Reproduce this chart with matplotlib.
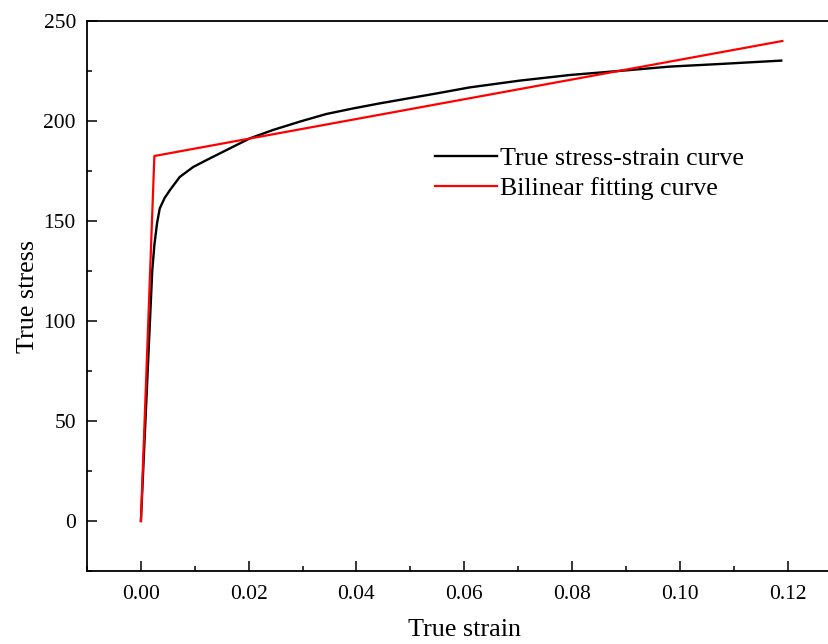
import matplotlib.pyplot as plt
from matplotlib.ticker import MultipleLocator

plt.rcParams['font.family'] = ['Liberation Serif', 'DejaVu Serif']

# True stress-strain curve
strain_true = [0.0, 0.0021, 0.0025, 0.0030, 0.0035, 0.0044, 0.0054, 0.0072, 0.0097,
               0.0122, 0.0159, 0.0202, 0.0245, 0.0295, 0.0344, 0.0394, 0.0443,
               0.0500, 0.0549, 0.0610, 0.0703, 0.0796, 0.0895, 0.0981, 0.1074, 0.1188]
stress_true = [0.0, 125, 138, 149, 156.3, 161.5, 165.5, 172, 177,
               180.5, 185.5, 191.3, 195.5, 199.7, 203.5, 206.3, 208.8,
               211.5, 213.8, 216.8, 220.2, 223, 225.2, 227.2, 228.5, 230.2]

# Bilinear fitting curve
strain_fit = [0.0, 0.0025, 0.119]
stress_fit = [0.0, 182.5, 240]

fig = plt.figure(figsize=(8.29, 6.44), dpi=100)
ax = fig.add_axes([87 / 829, 73 / 644, 754.6 / 829, 550 / 644])

ax.plot(strain_true, stress_true, color='black', lw=1.7, label='True stress-strain curve', zorder=2)
ax.plot(strain_fit, stress_fit, color='red', lw=1.6, label='Bilinear fitting curve', zorder=3)

ax.set_xlim(-0.01, 0.13)
ax.set_ylim(-25, 250)
ax.xaxis.set_major_locator(MultipleLocator(0.02))
ax.xaxis.set_minor_locator(MultipleLocator(0.01))
ax.yaxis.set_major_locator(MultipleLocator(50))
ax.yaxis.set_minor_locator(MultipleLocator(25))
ax.xaxis.set_major_formatter(lambda v, p: f'{v:.2f}')

ax.tick_params(which='both', direction='in', width=1.1, labelsize=15.5)
ax.tick_params(which='major', length=7)
ax.tick_params(which='minor', length=3.5)
ax.tick_params(axis='x', pad=10)
ax.tick_params(axis='y', pad=8)
ax.spines['right'].set_visible(False)
for s in ['left', 'bottom', 'top']:
    ax.spines[s].set_linewidth(1.3)

ax.set_xlabel('True strain', fontsize=18.8, labelpad=11)
ax.set_ylabel('True stress', fontsize=18.8, labelpad=3)

ax.legend(loc='upper left', bbox_to_anchor=(0.461, 0.771), frameon=False,
          fontsize=18.7, handlelength=2.4, handletextpad=0.12,
          borderpad=0, borderaxespad=0, labelspacing=0.25)

fig.savefig('out.png', dpi=100)
